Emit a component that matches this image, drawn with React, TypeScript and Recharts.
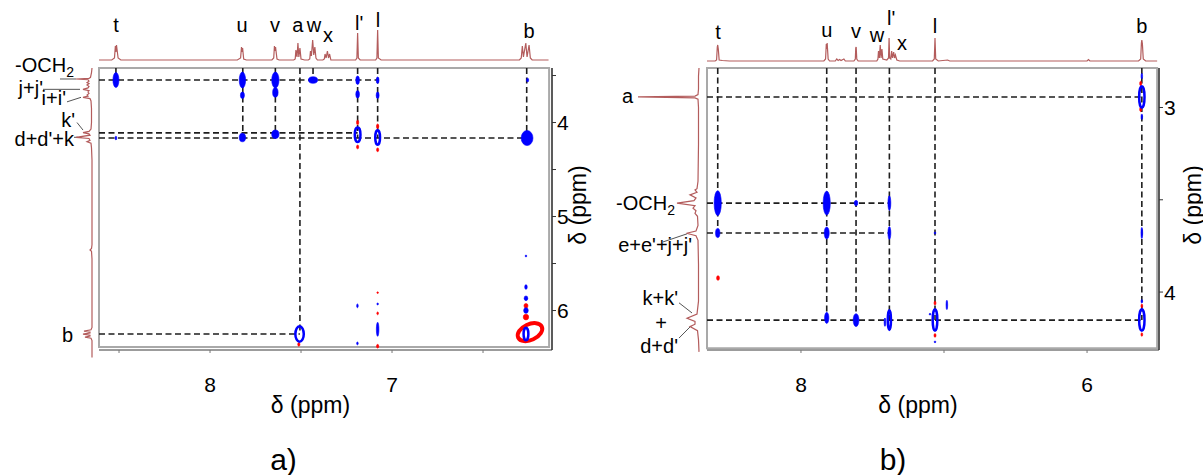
import React from "react";
import { ScatterChart, Scatter, XAxis, YAxis, ReferenceLine, ReferenceArea } from "recharts";

const W = 1203;
const H = 475;
const FONT = "'Liberation Sans', Arial, sans-serif";
const SPEC = "#b35c5c";
const BLUE = "#0000ff";
const RED = "#ff0000";
const DASH = "#1e1e1e";

type Pt = [number, number];
type Peak = [number, number, number, number, string];
type Lab = [string, number, number];
type Seg = [number, number, number, number];

// ---------- panel a ----------
// 1D spectrum on top: [ppm, intensity]
const topSpectrumA: Pt[] = [
  [8.61, 0], [8.54, 0], [8.525, 2], [8.52, 14], [8.517, 8], [8.514, 15], [8.505, 2], [8.49, 0],
  [7.85, 0], [7.832, 2], [7.827, 13], [7.824, 8], [7.821, 12], [7.815, 1], [7.8, 0],
  [7.66, 0], [7.65, 2], [7.646, 14], [7.643, 9], [7.64, 13], [7.632, 1], [7.62, 0],
  [7.54, 0], [7.532, 1], [7.528, 10], [7.522, 3], [7.517, 17], [7.512, 3], [7.506, 12], [7.5, 1], [7.48, 0],
  [7.46, 0], [7.452, 1], [7.448, 9], [7.443, 4], [7.436, 20], [7.43, 5], [7.424, 13], [7.418, 2], [7.41, 0],
  [7.38, 0], [7.372, 1], [7.368, 6], [7.362, 2], [7.355, 9], [7.349, 2], [7.343, 6], [7.336, 0],
  [7.2, 0], [7.193, 2], [7.189, 27], [7.185, 2], [7.175, 0],
  [7.09, 0], [7.083, 2], [7.079, 30], [7.075, 2], [7.06, 0],
  [6.3, 0], [6.29, 2], [6.284, 14], [6.278, 3], [6.265, 17], [6.258, 3], [6.247, 15], [6.24, 2], [6.23, 0], [6.14, 0],
];
// peak letters over the top spectrum: [text, ppm, level]
const topLabelsA: Lab[] = [
  ["t", 8.517, 28], ["u", 7.824, 28], ["v", 7.643, 28], ["a", 7.517, 28], ["w", 7.429, 28],
  ["x", 7.352, 18], ["l'", 7.181, 30], ["l", 7.077, 33], ["b", 6.247, 22],
];
// 1D spectrum on the left: [ppm, intensity]
const sideSpectrumA: Pt[] = [
  [3.42, 0], [3.47, 0.5], [3.52, 1.5], [3.53, 3], [3.537, 16], [3.545, 4], [3.56, 3], [3.575, 5], [3.585, 3],
  [3.601, 5], [3.615, 3], [3.632, 4], [3.647, 9], [3.66, 3], [3.675, 4], [3.69, 3], [3.707, 5], [3.72, 4],
  [3.732, 9], [3.745, 2], [3.77, 1], [3.85, 0.5], [4.0, 0.5], [4.07, 1], [4.095, 3], [4.108, 9], [4.12, 3],
  [4.135, 2], [4.157, 16], [4.17, 3], [4.19, 2], [4.204, 5], [4.22, 1], [4.27, 0.5], [4.4, 0],
  [5.3, 0], [5.34, 0.5], [5.356, 2], [5.37, 0.5], [5.45, 0],
  [6.18, 0], [6.205, 1], [6.218, 8], [6.228, 2], [6.238, 2], [6.25, 9], [6.262, 2], [6.272, 2], [6.282, 7],
  [6.295, 1], [6.32, 0], [6.5, 0],
];
// assignments on the left: [text, intensity, ppm]
const sideLabelsA: Lab[] = [
  ["-OCH_2", 18, 3.463], ["j+j'", 49, 3.707], ["i+i'", 26, 3.814], ["k'", 17, 4.05],
  ["d+d'+k", 18, 4.255], ["b", 19, 6.335],
];
const sideLeadersA: Seg[] = [
  [32, 3.537, 16, 3.537], [49, 3.647, 12, 3.647], [25, 3.78, 11, 3.732], [15, 4.0, 9, 4.08], [18, 4.157, 14, 4.157],
];
// cross peaks: [ppm x, ppm y, width, height, kind]
const crossPeaksA: Peak[] = [
  [8.517, 3.548, 0.033, 0.16, "fill"], [7.822, 3.548, 0.035, 0.17, "fill"], [7.641, 3.548, 0.04, 0.17, "fill"],
  [7.434, 3.548, 0.05, 0.07, "fill"], [7.189, 3.55, 0.02, 0.09, "fill"], [7.079, 3.55, 0.015, 0.07, "fill"],
  [6.255, 3.548, 0.012, 0.04, "fill"],
  [7.822, 3.71, 0.022, 0.07, "fill"], [7.641, 3.68, 0.03, 0.1, "fill"], [7.189, 3.7, 0.02, 0.08, "fill"],
  [7.079, 3.71, 0.016, 0.07, "fill"],
  [8.517, 4.165, 0.01, 0.04, "fill"], [7.822, 4.16, 0.035, 0.09, "fill"], [7.641, 4.125, 0.04, 0.09, "fill"],
  [7.189, 4.0, 0.012, 0.05, "red"], [7.189, 4.26, 0.012, 0.04, "red"],
  [7.079, 4.04, 0.012, 0.05, "red"], [7.079, 4.29, 0.012, 0.04, "red"],
  [7.189, 4.13, 0.045, 0.18, "ring"], [7.079, 4.16, 0.04, 0.18, "ring"],
  [6.258, 4.165, 0.065, 0.16, "fill"],
  [7.512, 6.36, 0.012, 0.04, "red"], [7.508, 6.25, 0.06, 0.19, "ring"],
  [7.19, 5.95, 0.008, 0.04, "fill"], [7.19, 6.35, 0.008, 0.03, "fill"],
  [7.079, 5.81, 0.006, 0.015, "red"], [7.079, 6.03, 0.008, 0.03, "red"], [7.079, 5.93, 0.006, 0.02, "fill"],
  [7.079, 6.2, 0.014, 0.15, "fill"], [7.079, 6.38, 0.012, 0.04, "red"],
  [6.264, 5.42, 0.006, 0.02, "fill"], [6.264, 5.75, 0.014, 0.05, "fill"], [6.264, 5.87, 0.02, 0.05, "fill"],
  [6.264, 5.95, 0.022, 0.05, "red"], [6.264, 6.0, 0.025, 0.06, "fill"], [6.264, 6.07, 0.03, 0.06, "red"],
  [6.242, 6.23, 0.165, 0.21, "redRing"], [6.264, 6.25, 0.04, 0.16, "ring"],
];
// dashed guides: horizontal [y, x1, x2], vertical [x, y1, y2]
const hDashA: number[][] = [[3.548, 8.61, 7.079], [4.11, 8.61, 7.189], [4.165, 8.61, 6.26], [6.25, 8.61, 7.506]];
const vDashA: number[][] = [
  [8.517, 3.42, 3.548], [7.82, 3.42, 4.165], [7.641, 3.42, 4.11], [7.506, 3.42, 6.25], [7.434, 3.42, 3.548],
  [7.189, 3.42, 4.165], [7.079, 3.42, 4.165], [6.26, 3.42, 4.165],
];
const xTicksA = [8.5, 8, 7.5, 7, 6.5];
const xTickLabelsA = [8, 7];
const yTicksA = [3.5, 4, 4.5, 5, 5.5, 6];
const yTickLabelsA = [4, 5, 6];

// ---------- panel b ----------
const topSpectrumB: Pt[] = [
  [8.657, 0], [8.6, 0], [8.59, 1], [8.585, 14], [8.582, 16], [8.578, 12], [8.572, 1], [8.55, 0.5], [8.5, 0],
  [7.84, 0], [7.828, 2], [7.823, 17], [7.82, 12], [7.817, 18], [7.81, 2], [7.8, 0],
  [7.76, 0], [7.75, 2], [7.74, 0.5], [7.73, 1.5], [7.72, 0.5], [7.7, 2], [7.69, 0],
  [7.63, 0], [7.62, 2], [7.617, 13], [7.614, 14], [7.61, 2], [7.6, 0],
  [7.47, 0], [7.462, 2], [7.458, 10], [7.452, 3], [7.446, 16], [7.44, 3], [7.434, 12], [7.428, 2], [7.4, 1],
  [7.388, 3], [7.384, 23], [7.38, 3], [7.372, 2], [7.366, 10], [7.36, 3], [7.352, 9], [7.346, 3], [7.34, 6],
  [7.33, 1], [7.31, 0],
  [7.08, 0], [7.068, 2], [7.063, 23], [7.058, 2], [7.04, 0], [6.975, 1], [6.96, 0],
  [6.0, 0], [5.99, 1.5], [5.98, 0],
  [5.64, 0], [5.625, 2], [5.62, 18], [5.617, 21], [5.613, 17], [5.607, 2], [5.59, 0], [5.51, 0],
];
const topLabelsB: Lab[] = [
  ["t", 8.58, 22], ["u", 7.82, 24], ["v", 7.615, 23], ["w", 7.468, 19], ["l'", 7.37, 36],
  ["x", 7.293, 11], ["l", 7.063, 28], ["b", 5.617, 28],
];
const sideSpectrumB: Pt[] = [
  [2.786, 0], [2.83, 0.5], [2.9, 0.5], [2.93, 1], [2.938, 4], [2.943, 61], [2.948, 4], [2.955, 1], [3.0, 0.5],
  [3.2, 0.5], [3.4, 1], [3.44, 2], [3.447, 4], [3.46, 2], [3.474, 9], [3.49, 3], [3.505, 5], [3.519, 22],
  [3.532, 4], [3.546, 6], [3.56, 3], [3.574, 4], [3.59, 1.5], [3.64, 1], [3.67, 3], [3.682, 12.5], [3.695, 3],
  [3.72, 1], [3.85, 0.5], [4.05, 0.5], [4.12, 2], [4.143, 12], [4.16, 4], [4.175, 4], [4.188, 9], [4.21, 1.5],
  [4.26, 0.5], [4.325, 0],
];
const sideLabelsB: Lab[] = [
  ["a", 66, 2.976], ["-OCH_2", 24, 3.556], ["e+e'+j+j'", 7, 3.783], ["k+k'", 21, 4.07], ["+", 32, 4.206],
  ["d+d'", 21, 4.331],
];
const sideLeadersB: Seg[] = [
  [36, 3.729, 12, 3.685], [20, 4.059, 7, 4.114], [20, 4.25, 9, 4.19],
];
const crossPeaksB: Peak[] = [
  [8.582, 3.518, 0.05, 0.135, "fill"], [8.582, 3.68, 0.03, 0.05, "fill"], [7.82, 3.518, 0.05, 0.13, "fill"],
  [7.82, 3.68, 0.035, 0.065, "fill"], [7.615, 3.518, 0.025, 0.03, "fill"], [7.382, 3.518, 0.02, 0.08, "fill"],
  [7.382, 3.68, 0.02, 0.07, "fill"], [7.063, 3.68, 0.008, 0.012, "fill"], [5.617, 3.68, 0.012, 0.06, "fill"],
  [8.58, 3.924, 0.02, 0.025, "red"],
  [7.82, 4.14, 0.03, 0.06, "fill"], [7.615, 4.152, 0.04, 0.07, "fill"],
  [7.382, 4.152, 0.04, 0.12, "ring"], [7.413, 4.163, 0.008, 0.045, "fill"],
  [7.063, 4.06, 0.014, 0.02, "red"], [7.063, 4.235, 0.014, 0.02, "red"],
  [7.063, 4.152, 0.05, 0.13, "ring"], [7.098, 4.12, 0.01, 0.01, "fill"], [6.98, 4.07, 0.01, 0.05, "fill"],
  [7.063, 4.27, 0.008, 0.01, "fill"],
  [5.617, 4.075, 0.012, 0.02, "red"], [5.617, 4.23, 0.012, 0.02, "red"], [5.617, 4.05, 0.008, 0.02, "fill"],
  [5.617, 4.152, 0.055, 0.13, "ring"],
  [5.625, 2.87, 0.014, 0.025, "red"], [5.625, 3.01, 0.014, 0.025, "red"], [5.617, 2.83, 0.008, 0.03, "fill"],
  [5.617, 3.05, 0.008, 0.03, "fill"], [5.617, 2.943, 0.055, 0.13, "ring"],
];
const hDashB: number[][] = [[2.943, 8.657, 5.617], [3.518, 8.657, 7.382], [3.68, 8.657, 7.382], [4.152, 8.657, 5.617]];
const vDashB: number[][] = [
  [8.582, 2.786, 3.68], [7.82, 2.786, 4.152], [7.615, 2.786, 4.152], [7.382, 2.786, 4.152],
  [7.063, 2.786, 4.152], [5.617, 2.786, 4.152],
];
const xTicksB = [8, 7, 6];
const xTickLabelsB = [8, 6];
const yTicksB = [3, 3.5, 4];
const yTickLabelsB = [3, 4];

// ---------- layout ----------
type Layout = {
  plotL: number; plotR: number; plotT: number; plotB: number;
  xDom: [number, number]; yDom: [number, number];
  box: [number, number, number, number];
  topBase: number; sideL: number; sideR: number; sideBottom: number; sideYDom: [number, number];
  yAxisW: number; yTitleOff: number; titleDx: number; capDx: number; caption: string;
};
const layoutA: Layout = {
  plotL: 99, plotR: 552, plotT: 68, plotB: 350, xDom: [6.121, 8.61], yDom: [3.42, 6.42],
  box: [8.61, 6.137, 3.42, 6.388], topBase: 60, sideL: 0, sideR: 92, sideBottom: 360, sideYDom: [3.42, 6.526],
  yAxisW: 52, yTitleOff: 26, titleDx: -15, capDx: -42, caption: "a)",
};
const layoutB: Layout = {
  plotL: 707, plotR: 1159, plotT: 68, plotB: 350, xDom: [5.497, 8.657], yDom: [2.786, 4.314],
  box: [8.657, 5.51, 2.786, 4.304], topBase: 61, sideL: 590, sideR: 699, sideBottom: 360, sideYDom: [2.786, 4.369],
  yAxisW: 44, yTitleOff: 34, titleDx: -15, capDx: -40, caption: "b)",
};
const XH = 110;

type PanelData = {
  top: Pt[]; topLabels: Lab[]; side: Pt[]; sideLabels: Lab[]; leaders: Seg[]; peaks: Peak[];
  hDash: number[][]; vDash: number[][]; xTicks: number[]; xTickLabels: number[]; yTicks: number[]; yTickLabels: number[];
};

const noDot = () => <g />;

const topLabel = (p: any) => (
  <text x={p.cx} y={p.cy} textAnchor="middle" fontSize={20} fill="#000">{p.payload.t}</text>
);

const sideLabel = (p: any) => {
  const [main, sub] = String(p.payload.t).split("_");
  return (
    <text x={p.cx} y={p.cy} textAnchor="end" fontSize={20} fill="#000">
      {main}
      {sub ? <tspan dy={5} fontSize={14}>{sub}</tspan> : null}
    </text>
  );
};

const peakShape = (kx: number, ky: number) => (p: any) => {
  const { cx, cy, payload } = p;
  const kind: string = payload.kind;
  const ring = kind === "ring" || kind === "redRing";
  const col = kind === "red" || kind === "redRing" ? RED : BLUE;
  const sw = kind === "redRing" ? 4 : ring ? 2.5 : 0.6;
  const rx = Math.max((payload.w * kx) / 2 - (ring ? sw / 2 : 0), 0.8);
  const ry = Math.max((payload.h * ky) / 2 - (ring ? sw / 2 : 0), 0.8);
  return (
    <ellipse cx={cx} cy={cy} rx={rx} ry={ry} fill={ring ? "none" : col} stroke={col} strokeWidth={sw}
      transform={kind === "redRing" ? `rotate(-25 ${cx} ${cy})` : undefined} />
  );
};

function Panel({ L, D }: { L: Layout; D: PanelData }) {
  const kx = (L.plotR - L.plotL) / (L.xDom[1] - L.xDom[0]);
  const ky = (L.plotB - L.plotT) / (L.yDom[1] - L.yDom[0]);
  const abs = { position: "absolute" as const, left: 0, top: 0 };

  const xTitle = (props: any) => {
    const vb = props.viewBox || { x: L.plotL, y: L.plotB, width: L.plotR - L.plotL, height: XH };
    const cx = vb.x + vb.width / 2;
    return (
      <g>
        <text x={cx + L.titleDx} y={vb.y + 63} textAnchor="middle" fontSize={23} fill="#000">δ (ppm)</text>
        <text x={cx + L.capDx} y={vb.y + 120} textAnchor="middle" fontSize={30} fill="#000">{L.caption}</text>
      </g>
    );
  };
  const yTitle = (props: any) => {
    const vb = props.viewBox || { x: L.plotR, y: L.plotT, width: L.yAxisW, height: L.plotB - L.plotT };
    const x = vb.x + L.yTitleOff;
    const y = vb.y + vb.height / 2 - 4;
    return (
      <text x={x} y={y} transform={`rotate(-90 ${x} ${y})`} textAnchor="middle" dominantBaseline="central"
        fontSize={23} fill="#000">δ (ppm)</text>
    );
  };

  return (
    <>
      {/* top projection */}
      <div style={abs}>
        <ScatterChart width={W} height={H} margin={{ top: 0, left: L.plotL, right: W - L.plotR, bottom: H - L.topBase }}>
          <XAxis type="number" dataKey="x" domain={L.xDom} reversed hide />
          <YAxis type="number" dataKey="y" domain={[0, L.topBase]} hide />
          <Scatter data={D.top.map(([x, y]) => ({ x, y }))} fill={SPEC} line={{ stroke: SPEC, strokeWidth: 1.2 }}
            shape={noDot} isAnimationActive={false} />
          <Scatter data={D.topLabels.map(([t, x, y]) => ({ t, x, y }))} shape={topLabel} isAnimationActive={false} />
        </ScatterChart>
      </div>
      {/* side projection */}
      <div style={abs}>
        <ScatterChart width={W} height={H}
          margin={{ top: L.plotT, left: L.sideL, right: W - L.sideR, bottom: H - L.sideBottom }}>
          <XAxis type="number" dataKey="x" domain={[0, L.sideR - L.sideL]} reversed hide />
          <YAxis type="number" dataKey="y" domain={L.sideYDom} reversed hide />
          {D.leaders.map(([x1, y1, x2, y2], i) => (
            <ReferenceLine key={i} segment={[{ x: x1, y: y1 }, { x: x2, y: y2 }]} stroke="#555" strokeWidth={1}
              ifOverflow="visible" />
          ))}
          <Scatter data={D.side.map(([y, x]) => ({ x, y }))} fill={SPEC} line={{ stroke: SPEC, strokeWidth: 1.2 }}
            shape={noDot} isAnimationActive={false} />
          <Scatter data={D.sideLabels.map(([t, x, y]) => ({ t, x, y }))} shape={sideLabel} isAnimationActive={false} />
        </ScatterChart>
      </div>
      {/* 2D map */}
      <div style={abs}>
        <ScatterChart width={W} height={H}
          margin={{ top: L.plotT, left: L.plotL, right: W - L.plotR - L.yAxisW, bottom: H - L.plotB - XH }}>
          <XAxis type="number" dataKey="x" domain={L.xDom} reversed ticks={D.xTicks} interval={0}
            tickFormatter={(v: number) => (D.xTickLabels.includes(v) ? String(v) : "")}
            tick={{ fontSize: 21, fill: "#000" }} tickSize={3} tickMargin={24} height={XH}
            axisLine={{ stroke: "#9c9c9c", strokeWidth: 2 }} tickLine={{ stroke: "#777" }} label={{ content: xTitle }} />
          <YAxis type="number" dataKey="y" domain={L.yDom} reversed orientation="right" width={L.yAxisW}
            ticks={D.yTicks} interval={0}
            tickFormatter={(v: number) => (D.yTickLabels.includes(v) ? String(v) : "")}
            tick={{ fontSize: 21, fill: "#000" }} tickSize={4} tickMargin={1}
            axisLine={{ stroke: "#333", strokeWidth: 1.6 }} tickLine={{ stroke: "#333" }} label={{ content: yTitle }} />
          <ReferenceArea x1={L.box[0]} x2={L.box[1]} y1={L.box[2]} y2={L.box[3]} fill="none" fillOpacity={0}
            stroke="#a9a9a9" strokeWidth={2} ifOverflow="visible" />
          <Scatter data={D.peaks.map(([x, y, w, h, kind]) => ({ x, y, w, h, kind }))} shape={peakShape(kx, ky)}
            isAnimationActive={false} />
          {D.hDash.map(([y, x1, x2], i) => (
            <ReferenceLine key={"h" + i} segment={[{ x: x1, y }, { x: x2, y }]} stroke={DASH} strokeWidth={1.6}
              strokeDasharray="6 3.5" ifOverflow="visible" />
          ))}
          {D.vDash.map(([x, y1, y2], i) => (
            <ReferenceLine key={"v" + i} segment={[{ x, y: y1 }, { x, y: y2 }]} stroke={DASH} strokeWidth={1.6}
              strokeDasharray="6 3.5" ifOverflow="visible" />
          ))}
        </ScatterChart>
      </div>
    </>
  );
}

const dataA: PanelData = {
  top: topSpectrumA, topLabels: topLabelsA, side: sideSpectrumA, sideLabels: sideLabelsA, leaders: sideLeadersA,
  peaks: crossPeaksA, hDash: hDashA, vDash: vDashA, xTicks: xTicksA, xTickLabels: xTickLabelsA,
  yTicks: yTicksA, yTickLabels: yTickLabelsA,
};
const dataB: PanelData = {
  top: topSpectrumB, topLabels: topLabelsB, side: sideSpectrumB, sideLabels: sideLabelsB, leaders: sideLeadersB,
  peaks: crossPeaksB, hDash: hDashB, vDash: vDashB, xTicks: xTicksB, xTickLabels: xTickLabelsB,
  yTicks: yTicksB, yTickLabels: yTickLabelsB,
};

export default function App() {
  return (
    <div style={{ position: "absolute", left: 0, top: 0, width: W, height: H, background: "#fff", fontFamily: FONT, overflow: "hidden" }}>
      <Panel L={layoutA} D={dataA} />
      <Panel L={layoutB} D={dataB} />
    </div>
  );
}
